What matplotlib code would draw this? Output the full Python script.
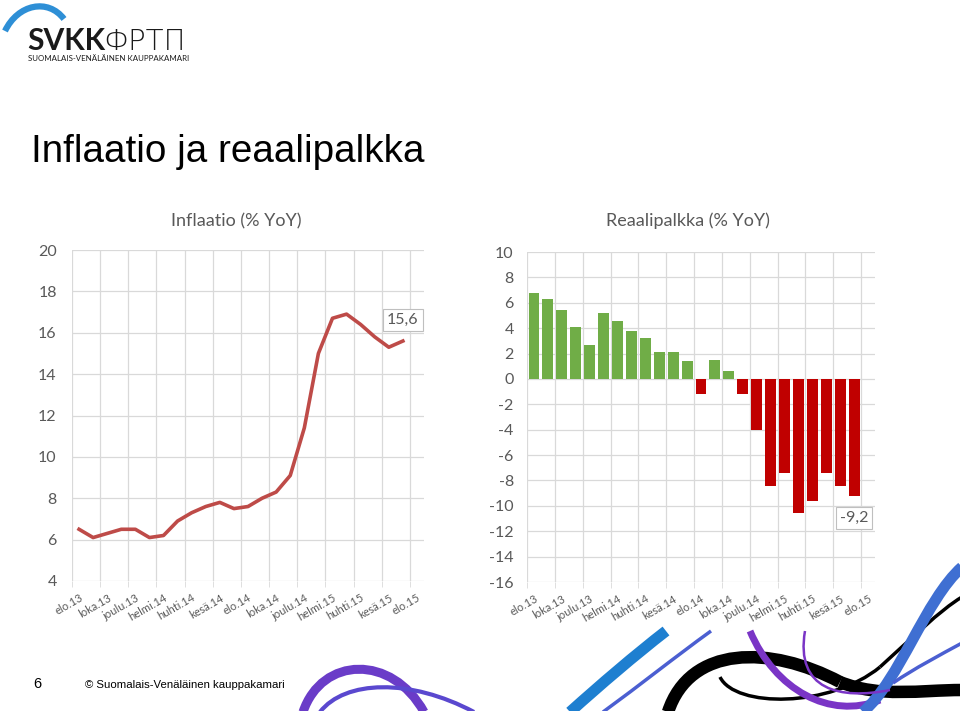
import numpy as np
import matplotlib
matplotlib.use("Agg")
import matplotlib.pyplot as plt
from matplotlib.path import Path
from matplotlib.patches import PathPatch

# months Aug 2013 .. Aug 2015, label every second month
months = ['elo.13', 'syys.13', 'loka.13', 'marras.13', 'joulu.13', 'tammi.14',
          'helmi.14', 'maalis.14', 'huhti.14', 'touko.14', 'kesä.14', 'heinä.14',
          'elo.14', 'syys.14', 'loka.14', 'marras.14', 'joulu.14', 'tammi.15',
          'helmi.15', 'maalis.15', 'huhti.15', 'touko.15', 'kesä.15', 'heinä.15',
          'elo.15']
inflation = [6.5, 6.1, 6.3, 6.5, 6.5, 6.1, 6.2, 6.9, 7.3, 7.6, 7.8, 7.5,
             7.6, 8.0, 8.3, 9.1, 11.4, 15.0, 16.7, 16.9, 16.4, 15.8, 15.3, 15.6]
real_wage = [6.8, 6.3, 5.4, 4.1, 2.7, 5.2, 4.6, 3.8, 3.2, 2.1, 2.1, 1.4,
             -1.2, 1.5, 0.6, -1.2, -4.0, -8.4, -7.4, -10.6, -9.6, -7.4, -8.4, -9.2]

GRAY = '#595959'
GRID = '#D9D9D9'
FONT = ['Lato', 'DejaVu Sans']
plt.rcParams['axes.unicode_minus'] = False

fig = plt.figure(figsize=(9.6, 7.11), dpi=100)

# page layer in pixel coordinates (logo, title, footer, swooshes)
page = fig.add_axes([0, 0, 1, 1], zorder=0)
page.set_xlim(0, 960)
page.set_ylim(711, 0)
page.axis('off')


def curve(ax, pts, color, lw):
    codes = [Path.MOVETO] + [Path.CURVE4] * (len(pts) - 1)
    ax.add_patch(PathPatch(Path(pts, codes), fill=False, edgecolor=color,
                           lw=lw, capstyle='butt'))


curve(page, [(5, 31), (18, 4), (48, -2), (64, 19)], '#2E8FD6', 4.5)
page.text(27, 50, 'SVKK', fontsize=21.5, fontweight='bold', color='#1a1a1a',
          family=['Lato'], va='baseline')
page.text(103, 50, 'ФРТП', fontsize=21, fontweight='light', color='#1a1a1a',
          family=['DejaVu Sans'], va='baseline')
page.text(28, 61, 'SUOMALAIS-VENÄLÄINEN KAUPPAKAMARI', fontsize=5.7,
          color='#1a1a1a', family=FONT, va='baseline')

page.text(31, 162, 'Inflaatio ja reaalipalkka', fontsize=27.8,
          family=['Liberation Sans'], va='baseline', color='black')

page.text(33, 688, '6', fontsize=10.5, family=['Liberation Sans'], va='baseline')
page.text(85, 688, '© Suomalais-Venäläinen kauppakamari', fontsize=8.2,
          family=['Liberation Sans'], va='baseline')

# decorative swooshes at the bottom
curve(page, [(303, 712), (322, 656), (392, 654), (424, 712)], '#6A3CC8', 6.5)
curve(page, [(320, 712), (345, 680), (410, 678), (474, 712)], '#5A48CF', 3)
curve(page, [(570, 712), (600, 685), (635, 655), (666, 631)], '#1E7FD0', 8)
curve(page, [(603, 712), (640, 685), (675, 657), (711, 631)], '#4B5FD1', 2.5)
curve(page, [(668, 712), (690, 645), (770, 645), (840, 682)], 'black', 9)
curve(page, [(840, 682), (880, 698), (920, 690), (962, 690)], 'black', 9)
curve(page, [(720, 677), (735, 708), (830, 708), (880, 667)], 'black', 2.5)
curve(page, [(880, 667), (910, 640), (940, 610), (962, 597)], 'black', 2.5)
curve(page, [(750, 631), (775, 690), (830, 720), (880, 700)], '#7A35C6', 5)
curve(page, [(863, 712), (900, 680), (925, 600), (962, 567)], '#3F6FD2', 8)
curve(page, [(805, 631), (795, 690), (840, 700), (890, 690)], '#7A35C6', 1.8)
curve(page, [(893, 683), (915, 668), (940, 655), (962, 643)], '#4B5FD1', 2.5)

x = np.arange(len(months))


def style_axes(ax, ymin, ymax, pad):
    ax.set_xlim(-0.5, len(months) - 0.5)
    ax.set_ylim(ymin, ymax)
    ax.set_yticks(np.arange(ymin, ymax + 1, 2))
    ax.set_xticks(x[::2])
    ax.set_xticklabels(months[::2], rotation=30, ha='right',
                       rotation_mode='anchor', fontsize=8, color=GRAY,
                       family=FONT)
    ax.set_xticks(np.arange(-0.5, len(months) - 1, 2), minor=True)
    ax.tick_params(axis='x', which='major', length=0, pad=8)
    ax.tick_params(axis='x', which='minor', length=4, color=GRID)
    ax.tick_params(axis='y', length=0, pad=pad, labelsize=11.5, labelcolor=GRAY)
    for lab in ax.get_yticklabels():
        lab.set_family(FONT)
    ax.grid(axis='y', color=GRID, lw=0.9)
    ax.grid(axis='x', which='minor', color=GRID, lw=0.9)
    ax.set_axisbelow(True)
    for s in ax.spines.values():
        s.set_visible(False)
    ax.patch.set_alpha(0)


ax1 = fig.add_axes([72 / 960, 1 - 581 / 711, 352 / 960, 331 / 711])
style_axes(ax1, 4, 20, 11)
ax1.plot(x[:len(inflation)], inflation, color='#BE4B48', lw=2.6,
         solid_joinstyle='round')
ax1.annotate(f'{inflation[-1]:.1f}'.replace('.', ','),
             (x[len(inflation) - 1], inflation[-1]), xytext=(0, 15),
             textcoords='offset points', ha='center', va='center',
             fontsize=11.5, color=GRAY, family=FONT,
             bbox=dict(boxstyle='square,pad=0.25', fc='white', ec='#BFBFBF',
                       lw=0.8))
ax1.set_title('Inflaatio (% YoY)', fontsize=13, color=GRAY, family=FONT,
              pad=17, x=0.466)

ax2 = fig.add_axes([527 / 960, 1 - 582 / 711, 348 / 960, 330 / 711])
style_axes(ax2, -16, 10, 9.5)
colors = ['#70AD47' if v >= 0 else '#C00000' for v in real_wage]
ax2.bar(x[:len(real_wage)], real_wage, width=0.78, color=colors)
ax2.annotate(f'{real_wage[-1]:.1f}'.replace('.', ','),
             (x[len(real_wage) - 1], real_wage[-1]), xytext=(0, -16),
             textcoords='offset points', ha='center', va='center',
             fontsize=11.5, color=GRAY, family=FONT,
             bbox=dict(boxstyle='square,pad=0.25', fc='white', ec='#BFBFBF',
                       lw=0.8))
ax2.set_title('Reaalipalkka (% YoY)', fontsize=13, color=GRAY, family=FONT,
              pad=19, x=0.463)

fig.savefig('out.png', dpi=100)
